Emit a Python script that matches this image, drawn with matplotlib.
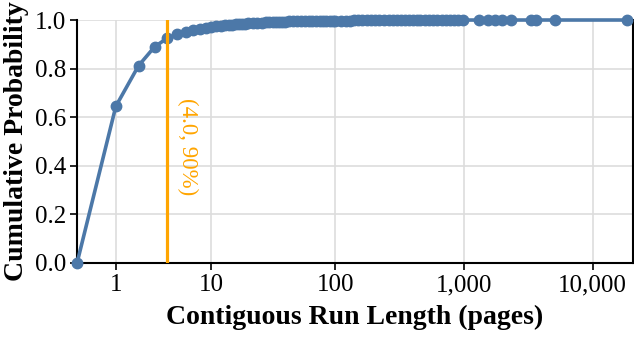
import numpy as np
import matplotlib
matplotlib.use("Agg")
import matplotlib.pyplot as plt

# run length (pages) and cumulative probability
run_length = [0, 1, 2, 3, 4, 5, 6, 7, 8, 9, 10, 11, 12, 13, 14, 15, 16, 17, 18,
              19, 20, 22, 24, 26, 28, 30, 32, 34, 36, 38, 40, 43, 46, 50, 54, 58,
              62, 66, 70, 75, 80, 85, 90, 95, 100, 110, 120, 130, 140, 150, 160,
              175, 190, 205, 220, 240, 260, 280, 300, 325, 350, 375, 400, 430,
              460, 500, 540, 580, 620, 670, 720, 780, 840, 900, 980, 1320, 1525,
              1730, 1990, 2300, 3340, 3650, 5120, 18500]
cum_prob = [0.0, 0.645, 0.812, 0.89, 0.925, 0.943, 0.952, 0.959, 0.965, 0.969,
            0.972, 0.975, 0.977, 0.979, 0.980, 0.981, 0.982, 0.983, 0.984,
            0.985, 0.986, 0.987, 0.988, 0.989, 0.990, 0.991, 0.9915, 0.992,
            0.9925, 0.993, 0.9935, 0.994, 0.9944, 0.9948, 0.9952, 0.9955,
            0.9958, 0.996, 0.9962, 0.9964, 0.9966, 0.9968, 0.997, 0.9971,
            0.9972, 0.9974, 0.9976, 0.9978, 0.998, 0.9981, 0.9982, 0.9983,
            0.9984, 0.9985, 0.9986, 0.9987, 0.9988, 0.9989, 0.999, 0.9991,
            0.9992, 0.9992, 0.9993, 0.9994, 0.9994, 0.9995, 0.9995, 0.9996,
            0.9996, 0.9997, 0.9997, 0.9998, 0.9998, 0.9998, 0.9999, 0.9999,
            0.9999, 0.9999, 0.9999, 1.0, 1.0, 1.0, 1.0, 1.0]
x_ticks = [1, 10, 100, 1000, 10000]
x_tick_labels = ["1", "10", "100", "1,000", "10,000"]
marker_x = 4.0
marker_label = "(4.0, 90%)"

plt.rcParams['font.family'] = ['Liberation Serif', 'DejaVu Serif']

fig = plt.figure(figsize=(6.34, 3.38), dpi=100)
ax = fig.add_axes([0.1215, 0.2219, 0.8769, 0.7189])

fwd = lambda v: np.log10(1 + np.clip(v, 0, None))
inv = lambda v: 10 ** v - 1
ax.set_xscale('function', functions=(fwd, inv))
ax.set_xlim(0, 20500)
ax.set_ylim(0, 1)

ax.grid(True, color='#dddddd', linewidth=1.2, zorder=0)
ax.set_axisbelow(True)

ax.plot(run_length, cum_prob, color='#4c78a8', linewidth=2.6, marker='o',
        markersize=7.5, zorder=3, clip_on=False)

ax.axvline(marker_x, color='#ffa500', linewidth=2.3, zorder=4)
ax.annotate(marker_label, xy=(marker_x, 0.68), xytext=(20, 0),
            textcoords='offset pixels', rotation=-90, rotation_mode='anchor',
            ha='left', va='center', color='#ffa500', fontsize=16.5)

ax.set_xticks(x_ticks)
ax.set_xticklabels(x_tick_labels)
ax.xaxis.set_minor_locator(matplotlib.ticker.NullLocator())
ax.set_yticks([0, 0.2, 0.4, 0.6, 0.8, 1.0])
ax.set_yticklabels(["0.0", "0.2", "0.4", "0.6", "0.8", "1.0"])
ax.tick_params(axis='both', length=5, width=1.2, color='black',
               labelsize=18, pad=3)

ax.spines['top'].set_visible(False)
for s in ['left', 'bottom', 'right']:
    ax.spines[s].set_linewidth(1.5)
    ax.spines[s].set_color('black')

ax.set_xlabel("Contiguous Run Length (pages)", fontsize=20, fontweight='bold',
              labelpad=6)
ax.set_ylabel("Cumulative Probability", fontsize=20, fontweight='bold',
              labelpad=4)

fig.savefig("out.png", dpi=100)
